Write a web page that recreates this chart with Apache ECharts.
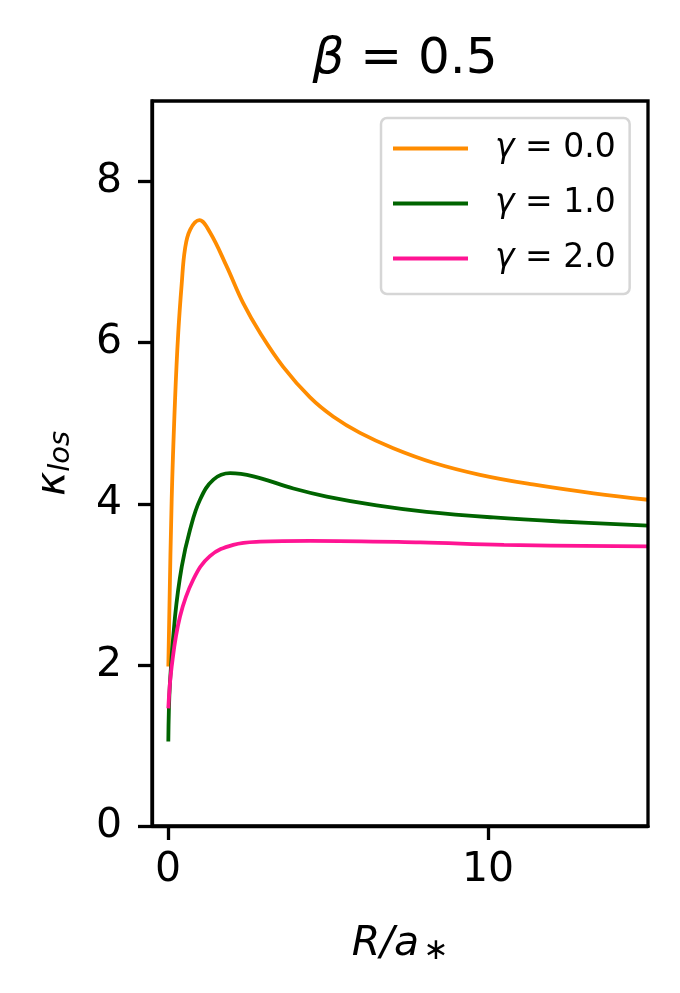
<!DOCTYPE html>
<html><head><meta charset="utf-8">
<script src="https://cdn.jsdelivr.net/npm/echarts@6/dist/echarts.min.js"></script>
<style>html,body{margin:0;padding:0;background:#fff}#c{width:680px;height:993px}</style>
</head><body><div id="c"></div>
<script>
const xG0 = [0.01, 0.115, 0.22, 0.32, 0.43, 0.53, 0.69, 0.98, 1.31, 1.83, 2.35, 2.88, 3.6, 4.44, 5.17, 6.0, 7.04, 8.29, 9.75, 11.4, 13.3, 15];
const yG0 = [1.98, 4.05, 5.29, 6.12, 6.74, 7.16, 7.40, 7.52, 7.37, 6.95, 6.49, 6.12, 5.70, 5.32, 5.08, 4.88, 4.69, 4.51, 4.36, 4.24, 4.13, 4.05];
const xG1 = [0.01, 0.06, 0.22, 0.43, 0.69, 1.0, 1.42, 1.94, 2.67, 3.92, 4.96, 6.52, 8.08, 10.17, 12.25, 15];
const yG1 = [1.05, 1.77, 2.60, 3.22, 3.68, 4.05, 4.30, 4.38, 4.34, 4.19, 4.09, 3.98, 3.90, 3.83, 3.78, 3.73];
const xG2 = [0.01, 0.115, 0.375, 0.79, 1.31, 2.04, 2.88, 4.44, 7.88, 10.5, 15];
const yG2 = [1.46, 1.98, 2.60, 3.06, 3.35, 3.49, 3.53, 3.54, 3.52, 3.49, 3.47];
const seriesNames = ['0.0', '1.0', '2.0'];
const colors = ['#ff8c00', '#006400', '#ff1493'];
const xTicks = [0, 10];
const yTicks = [0, 2, 4, 6, 8];

const pairs = (xs, ys) => xs.map((x, i) => [x, ys[i]]);
const datas = [pairs(xG0, yG0), pairs(xG1, yG1), pairs(xG2, yG2)];
const font = 'DejaVu Sans';
const chart = echarts.init(document.getElementById('c'), null, {renderer: 'canvas'});
chart.setOption({
  animation: false,
  title: {
    text: '{b|β} = 0.5', left: 400, top: 30, textAlign: 'center',
    textStyle: {fontFamily: font, fontSize: 50, fontWeight: 'normal', color: '#000',
      rich: {b: {fontFamily: font, fontSize: 50, fontStyle: 'italic', color: '#000'}}}
  },
  legend: {
    left: 381, top: 118, orient: 'vertical', itemWidth: 75, itemHeight: 4, itemGap: 22,
    icon: 'rect', backgroundColor: '#fff', borderColor: '#d6d6d6', borderWidth: 2.5, borderRadius: 6,
    padding: [14, 14, 19, 12],
    data: seriesNames.map(n => 'g' + n),
    formatter: n => '{g|γ} = ' + n.slice(1),
    textStyle: {fontFamily: font, fontSize: 33, lineHeight: 33, color: '#000', padding: [0, 0, 0, 22],
      rich: {g: {fontFamily: font, fontSize: 33, lineHeight: 33, fontStyle: 'italic', color: '#000'}}}
  },
  grid: {left: 152, right: 32, top: 101, bottom: 167, containLabel: false},
  xAxis: {
    type: 'value', min: -0.5, max: 15,
    name: '{i|R/a}{s|∗}', nameLocation: 'middle', nameGap: 96,
    nameTextStyle: {fontFamily: font, fontSize: 41, color: '#000',
      rich: {i: {fontFamily: font, fontSize: 41, fontStyle: 'italic', color: '#000'},
             s: {fontFamily: font, fontSize: 30, color: '#000', padding: [14, 0, 0, 4]}}},
    axisLine: {show: true, onZero: false, lineStyle: {color: '#000', width: 3.3}},
    axisTick: {show: true, customValues: xTicks, length: 14, lineStyle: {color: '#000', width: 3.3}},
    axisLabel: {customValues: xTicks, fontFamily: font, fontSize: 41, color: '#000', margin: 24},
    splitLine: {show: false}
  },
  yAxis: {
    type: 'value', min: 0, max: 9,
    name: '{k|κ}{s|los}', nameLocation: 'middle', nameGap: 76, nameRotate: 90,
    nameTextStyle: {fontFamily: font, fontSize: 41, color: '#000',
      rich: {k: {fontFamily: font, fontSize: 41, fontStyle: 'italic', color: '#000'},
             s: {fontFamily: font, fontSize: 29, fontStyle: 'italic', color: '#000', padding: [16, 0, 0, 0]}}},
    axisLine: {show: true, onZero: false, lineStyle: {color: '#000', width: 3.3}},
    axisTick: {show: true, customValues: yTicks, length: 14, lineStyle: {color: '#000', width: 3.3}},
    axisLabel: {customValues: yTicks, fontFamily: font, fontSize: 41, color: '#000', margin: 30},
    splitLine: {show: false}
  },
  graphic: [{type: 'rect', shape: {x: 152, y: 101, width: 496, height: 725}, silent: true, z: 100,
    style: {fill: 'none', stroke: '#000', lineWidth: 3.3}}],
  series: datas.map((d, i) => ({
    name: 'g' + seriesNames[i], type: 'line', data: d, smooth: 0.4, showSymbol: false,
    lineStyle: {color: colors[i], width: 3.8}, itemStyle: {color: colors[i]}
  }))
});
</script></body></html>
